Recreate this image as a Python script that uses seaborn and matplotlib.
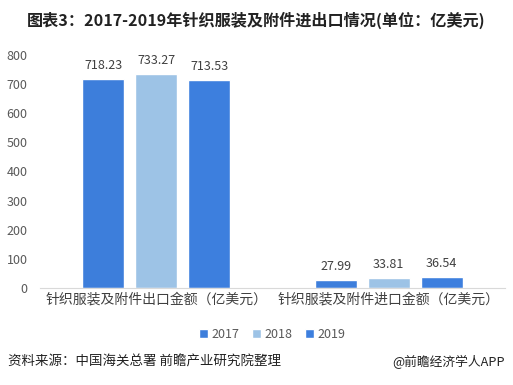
import seaborn as sns
import pandas as pd
import matplotlib.pyplot as plt

categories = ['针织服装及附件出口金额（亿美元）', '针织服装及附件进口金额（亿美元）']
years = ['2017', '2018', '2019']
v2017 = [718.23, 27.99]
v2018 = [733.27, 33.81]
v2019 = [713.53, 36.54]

rows = []
for yr, vals in zip(years, [v2017, v2018, v2019]):
    for cat, v in zip(categories, vals):
        rows.append({'cat': cat, 'year': yr, 'value': v})
df = pd.DataFrame(rows)

sns.set_style('white')
plt.rcParams['font.family'] = ['Noto Sans CJK SC', 'DejaVu Sans']

fig = plt.figure(figsize=(5.13, 3.85), dpi=100)
ax = fig.add_axes([40 / 513, 1 - 288 / 385, 465 / 513, (288 - 55) / 385])

palette = {'2017': '#3d7edb', '2018': '#9dc3e6', '2019': '#3d7fde'}
sns.barplot(data=df, x='cat', y='value', hue='year', palette=palette,
            width=0.684, gap=0.21, ax=ax, legend=True, saturation=1)

for c in ax.containers:
    ax.bar_label(c, fmt='%.2f', padding=5, fontsize=9, color='#404040')

ax.set_ylim(0, 800)
ax.set_xlim(-0.5, 1.5)
ax.set_yticks(range(0, 801, 100))
ax.tick_params(axis='y', labelsize=9, colors='#595959', length=0, pad=9)
ax.tick_params(axis='x', labelsize=10, colors='#404040', length=0, pad=3)
ax.set_xlabel('')
ax.set_ylabel('')
for s in ['top', 'right', 'left']:
    ax.spines[s].set_visible(False)
ax.spines['bottom'].set_color('#d9d9d9')

ax.legend(loc='center', bbox_to_anchor=(0.5, -0.2), ncol=3, frameon=False,
          fontsize=9, handlelength=0.7, handleheight=0.7, handletextpad=0.3,
          columnspacing=1.0, labelcolor='#595959')

fig.text(256 / 513, 1 - 20 / 385, '图表3：2017-2019年针织服装及附件进出口情况(单位：亿美元)',
         ha='center', va='center', fontsize=11.6, fontweight='bold', color='#222222')
fig.text(8 / 513, 1 - 362 / 385, '资料来源：中国海关总署 前瞻产业研究院整理',
         ha='left', va='center', fontsize=9.7, color='#222222')
fig.text(505 / 513, 1 - 362 / 385, '@前瞻经济学人APP',
         ha='right', va='center', fontsize=9.2, color='#222222')

fig.savefig('out.png', dpi=100, facecolor='white')
